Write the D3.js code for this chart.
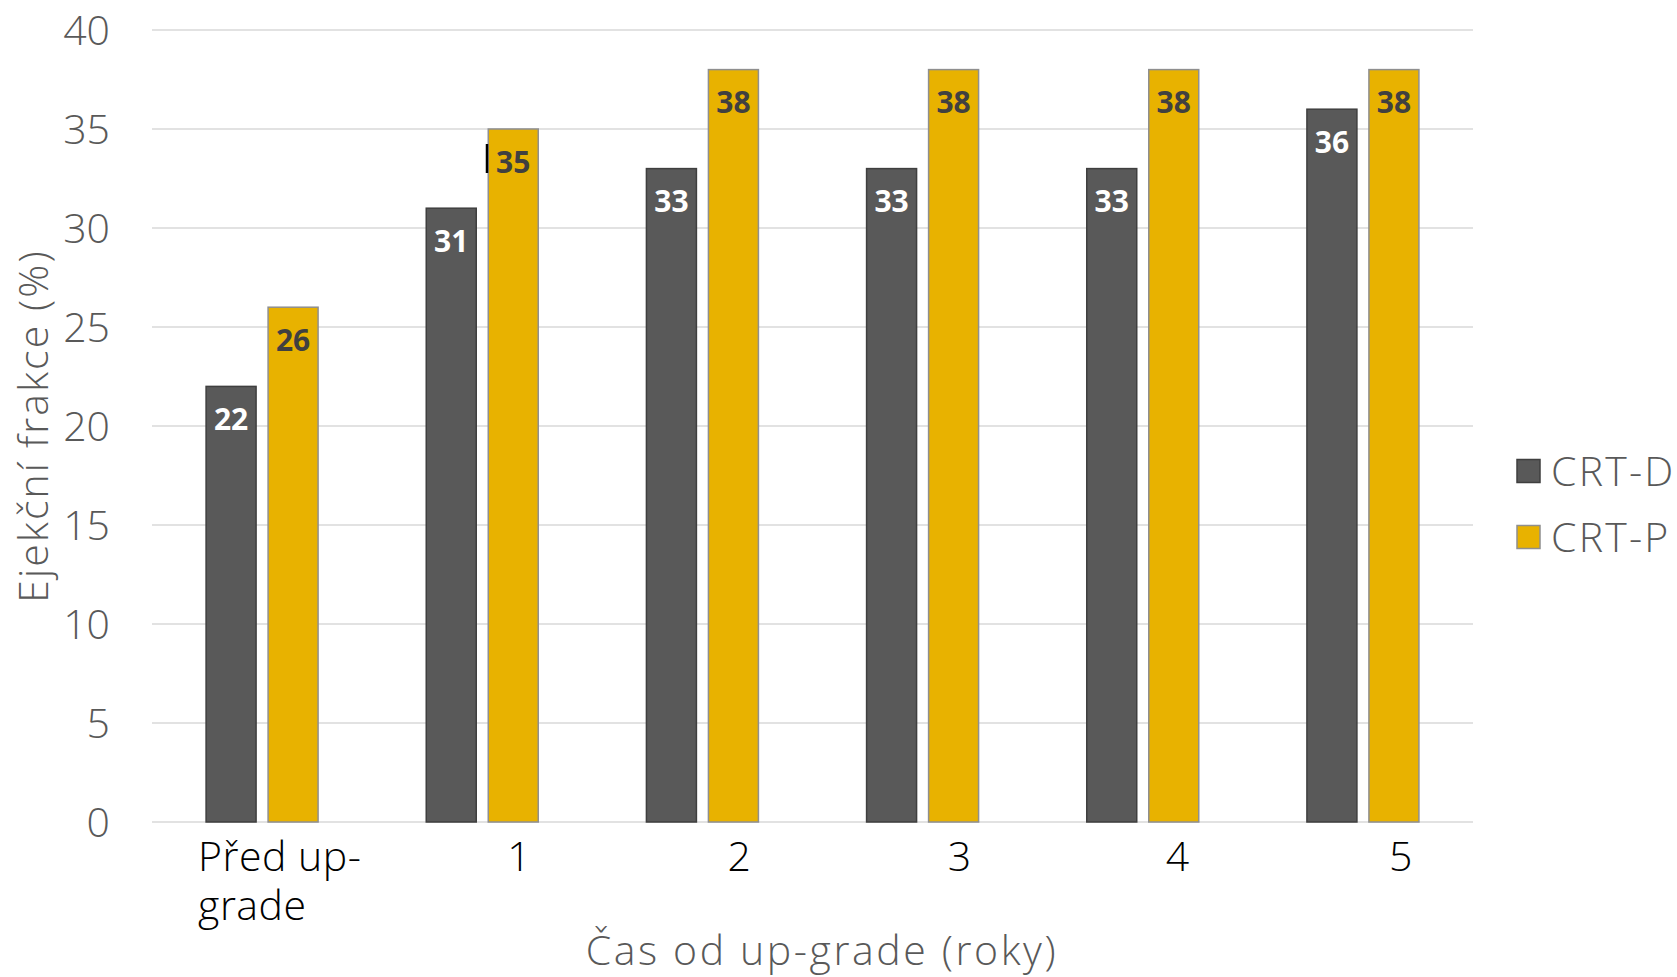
<!DOCTYPE html>
<html lang="cs">
<head>
<meta charset="utf-8">
<title>Ejekční frakce – CRT-D vs CRT-P</title>
<script src="https://cdn.jsdelivr.net/npm/d3@7/dist/d3.min.js"></script>
<style>
  html, body { margin: 0; padding: 0; background: #ffffff; }
  svg { display: block; }
  text { font-family: "Open Sans", "DejaVu Sans", sans-serif; }
  .light { font-weight: 300; }
</style>
</head>
<body>
<svg id="chart" width="1677" height="977"></svg>
<script>
// ---- data ----
const categories = ["Před up-grade", "1", "2", "3", "4", "5"];
const seriesNames = ["CRT-D", "CRT-P"];
const crtD = [22, 31, 33, 33, 33, 36];
const crtP = [26, 35, 38, 38, 38, 38];
const yTicks = [0, 5, 10, 15, 20, 25, 30, 35, 40];
const yTitle = "Ejekční frakce (%)";
const xTitle = "Čas od up-grade (roky)";

// ---- layout & style ----
const W = 1677, H = 977;
const plot = { left: 152, right: 1473, top: 30, bottom: 822 };
const colors = { "CRT-D": "#595959", "CRT-P": "#E8B200" };
const strokes = { "CRT-D": "#3f3f3f", "CRT-P": "#8f8f8f" };
const labelColors = { "CRT-D": "#ffffff", "CRT-P": "#404040" };
const barWidth = 50, barGap = 12;

const svg = d3.select("#chart");
svg.append("rect").attr("width", W).attr("height", H).attr("fill", "#fff");

const x0 = d3.scaleBand().domain(categories).range([plot.left, plot.right]).padding(0);
const half = barWidth + barGap / 2;
const x1 = d3.scaleBand().domain(seriesNames)
  .range([x0.bandwidth() / 2 - half, x0.bandwidth() / 2 + half])
  .paddingInner(barGap / (barWidth + barGap)).paddingOuter(0);
const y = d3.scaleLinear().domain([0, 40]).range([plot.bottom, plot.top]);

// gridlines
svg.append("g").selectAll("line").data(yTicks).join("line")
  .attr("x1", plot.left).attr("x2", plot.right)
  .attr("y1", d => y(d)).attr("y2", d => y(d))
  .attr("stroke", "#d9d9d9").attr("stroke-width", 1.5);

// y axis labels
const yAxis = d3.axisLeft(y).tickValues(yTicks).tickSize(0).tickPadding(0);
const gy = svg.append("g").attr("transform", `translate(110,0)`).call(yAxis);
gy.select(".domain").remove();
gy.selectAll("text")
  .attr("class", "light")
  .attr("fill", "#595959").attr("font-size", 41).attr("x", 0).attr("dy", "0.35em")
  .style("font-family", "'Open Sans', sans-serif");

// x axis labels (first category wrapped onto two lines)
const xLabelDx = [-64, 37, 37, 37, 35, 38];
const wrapped = { "Před up-grade": ["Před up-", "grade"] };
const gx = svg.append("g");
categories.forEach((c, i) => {
  const cx = x0(c) + x0.bandwidth() / 2 + xLabelDx[i];
  const lines = wrapped[c] || [c];
  lines.forEach((line, k) => {
    gx.append("text").attr("class", "light")
      .attr("fill", "#000000").attr("font-size", 41).attr("letter-spacing", 0.5)
      .attr("x", cx).attr("y", 871 + k * 49)
      .attr("text-anchor", lines.length > 1 ? "start" : "middle")
      .text(line);
  });
});

// bars
const series = [
  { name: "CRT-D", values: crtD },
  { name: "CRT-P", values: crtP }
];
const groups = svg.append("g").selectAll("g").data(categories).join("g")
  .attr("transform", c => `translate(${x0(c)},0)`);

groups.selectAll("rect").data((c, i) => series.map(s => ({ s: s.name, v: s.values[i], c })))
  .join("rect")
  .attr("x", d => x1(d.s)).attr("width", x1.bandwidth())
  .attr("y", d => y(d.v)).attr("height", d => y(0) - y(d.v))
  .attr("fill", d => colors[d.s]).attr("stroke", d => strokes[d.s]).attr("stroke-width", 1.5);

// value labels inside bar ends
groups.selectAll("text.val").data((c, i) => series.map(s => ({ s: s.name, v: s.values[i], c })))
  .join("text").attr("class", "val")
  .attr("x", d => x1(d.s) + x1.bandwidth() / 2)
  .attr("y", d => y(d.v) + 33)
  .attr("dy", "0.35em")
  .attr("text-anchor", "middle")
  .attr("font-size", 30).attr("font-weight", 700)
  .attr("fill", d => labelColors[d.s])
  .text(d => d.v);

// small edit caret left of the CRT-P label in year 1
const caretCat = "1";
const caretY = y(crtP[categories.indexOf(caretCat)]) + 33;
svg.append("rect")
  .attr("x", x0(caretCat) + x1("CRT-P") - 2.5).attr("width", 2.5)
  .attr("y", caretY - 18).attr("height", 29).attr("fill", "#000");

// axis titles
svg.append("text").attr("class", "light")
  .attr("transform", `translate(48,${(plot.top + plot.bottom) / 2}) rotate(-90)`)
  .attr("text-anchor", "middle").attr("font-size", 41).attr("fill", "#595959")
  .attr("letter-spacing", 2.1)
  .text(yTitle);
svg.append("text").attr("class", "light")
  .attr("x", 822).attr("y", 965).attr("text-anchor", "middle")
  .attr("font-size", 41).attr("fill", "#595959").attr("letter-spacing", 2.6)
  .text(xTitle);

// legend
const legend = svg.append("g").selectAll("g").data(seriesNames).join("g")
  .attr("transform", (d, i) => `translate(1517,${471 + i * 66})`);
legend.append("rect").attr("x", 0).attr("y", -11.5).attr("width", 23).attr("height", 23)
  .attr("fill", d => colors[d]).attr("stroke", d => strokes[d]).attr("stroke-width", 1.5);
legend.append("text").attr("class", "light")
  .attr("x", 34).attr("dy", "0.36em").attr("font-size", 41).attr("letter-spacing", 2.2)
  .attr("fill", "#595959").text(d => d);
</script>
</body>
</html>
